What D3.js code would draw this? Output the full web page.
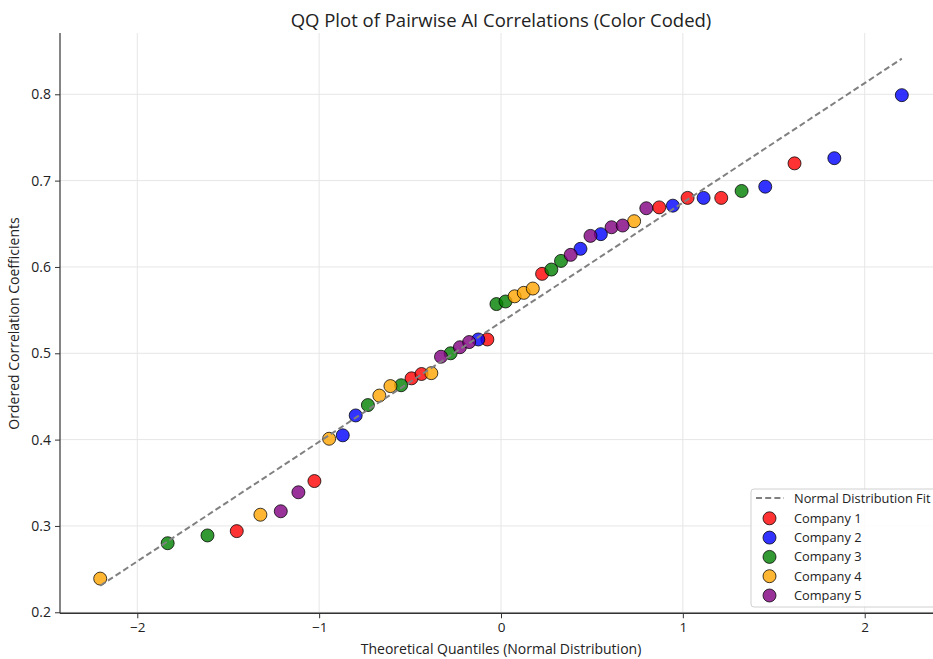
<!DOCTYPE html>
<html><head><meta charset="utf-8">
<script src="https://cdn.jsdelivr.net/npm/d3@7"></script>
<style>
body{margin:0;background:#fff;}
text{font-family:"Open Sans",Roboto,sans-serif;fill:#222;}
</style></head>
<body><svg id="chart" width="933" height="659"></svg>
<script>
// ---- data ----
const companies = ["Company 1","Company 2","Company 3","Company 4","Company 5"];
const companyColors = ["#ff0000","#0000ff","#008000","#ffa500","#800080"];
const theoreticalQuantiles = [
 -2.204,-1.833,-1.614,-1.453,-1.323,-1.211,-1.114,-1.026,-0.945,-0.870,
 -0.799,-0.732,-0.669,-0.608,-0.549,-0.492,-0.437,-0.383,-0.330,-0.277,
 -0.226,-0.175,-0.125,-0.075,-0.025, 0.025, 0.075, 0.125, 0.175, 0.226,
  0.277, 0.330, 0.383, 0.437, 0.492, 0.549, 0.608, 0.669, 0.732, 0.799,
  0.870, 0.945, 1.026, 1.114, 1.211, 1.323, 1.453, 1.614, 1.833, 2.204];
const orderedCorrelations = [
 0.239,0.280,0.289,0.294,0.313,0.317,0.339,0.352,0.401,0.405,
 0.428,0.440,0.451,0.462,0.463,0.471,0.476,0.477,0.496,0.500,
 0.507,0.513,0.516,0.516,0.557,0.560,0.566,0.570,0.575,0.592,
 0.597,0.607,0.614,0.621,0.636,0.638,0.646,0.648,0.653,0.668,
 0.669,0.671,0.680,0.680,0.680,0.688,0.693,0.720,0.726,0.799];
const companyOfPoint = [
 4,3,3,1,4,5,5,1,4,2,
 2,3,4,4,3,1,1,4,5,3,
 5,5,2,1,3,3,4,4,4,1,
 3,3,5,2,5,2,5,5,4,5,
 1,2,1,2,1,3,2,1,2,2];
const fitSlope = 0.1385;
const fitIntercept = 0.536;
const fitRange = [-2.204, 2.204];
const xTicks = [-2,-1,0,1,2];
const yTicks = [0.2,0.3,0.4,0.5,0.6,0.7,0.8];

// ---- layout ----
const svg = d3.select("#chart");
const L = 60, R = 942, T = 33, B = 614;
const x = d3.scaleLinear().domain([-2.425, 2.425]).range([L, R]);
const y = d3.scaleLinear().domain([0.198, 0.871]).range([B, T]);

// grid
const grid = svg.append("g");
grid.selectAll("line.gx").data(xTicks).enter().append("line")
  .attr("x1", d=>x(d)).attr("x2", d=>x(d)).attr("y1", T).attr("y2", B)
  .attr("stroke","#e6e6e6").attr("stroke-width",1);
grid.selectAll("line.gy").data(yTicks).enter().append("line")
  .attr("x1", L).attr("x2", R).attr("y1", d=>y(d)).attr("y2", d=>y(d))
  .attr("stroke","#e6e6e6").attr("stroke-width",1);

// points grouped by company (drawn in company order)
const pts = theoreticalQuantiles.map((q,i)=>({q, v: orderedCorrelations[i], c: companyOfPoint[i]}));
companies.forEach((name, ci) => {
  svg.append("g").selectAll("circle")
    .data(pts.filter(p => p.c === ci + 1)).enter().append("circle")
    .attr("cx", d=>x(d.q)).attr("cy", d=>y(d.v)).attr("r", 6.5)
    .attr("fill", companyColors[ci]).attr("fill-opacity", 0.8)
    .attr("stroke", "#000").attr("stroke-opacity", 0.75).attr("stroke-width", 1);
});

// fit line
const fitLine = d3.line().x(d=>x(d)).y(d=>y(fitSlope*d + fitIntercept));
svg.append("path").datum(fitRange).attr("d", fitLine)
  .attr("fill","none").attr("stroke","#808080").attr("stroke-width",2)
  .attr("stroke-dasharray","6,3.2");

// axes
const xAxis = d3.axisBottom(x).tickValues(xTicks).tickSize(5).tickPadding(4)
  .tickFormat(d => d < 0 ? "\u2212" + Math.abs(d) : d);
const gx = svg.append("g").attr("transform", `translate(0,${y(0.2)+1})`).call(xAxis);
gx.select(".domain").attr("d", `M${L},0H${R}`).attr("stroke","#333").attr("stroke-width",1.5);
gx.selectAll(".tick line").attr("stroke","#333");
gx.selectAll("text").style("font-size","13.5px").style("font-family","'Open Sans',sans-serif").attr("fill","#222");

const yAxis = d3.axisLeft(y).tickValues(yTicks).tickSize(5).tickPadding(4).tickFormat(d3.format(".1f"));
const gy = svg.append("g").attr("transform", `translate(${L},0)`).call(yAxis);
gy.select(".domain").attr("d", `M0,${T}V${y(0.2)+1}`).attr("stroke","#333").attr("stroke-width",1.2);
gy.selectAll(".tick line").attr("stroke","#333");
gy.selectAll("text").style("font-size","14px").style("font-family","'Open Sans',sans-serif").attr("fill","#222");

// titles
svg.append("text").attr("x", (L+R)/2).attr("y", 26.5).attr("text-anchor","middle")
  .style("font-size","18.5px").text("QQ Plot of Pairwise AI Correlations (Color Coded)");
svg.append("text").attr("x", (L+R)/2).attr("y", 654).attr("text-anchor","middle")
  .style("font-size","14px").text("Theoretical Quantiles (Normal Distribution)");
svg.append("text").attr("transform", `translate(19,${(T+B)/2}) rotate(-90)`).attr("text-anchor","middle")
  .style("font-size","14px").text("Ordered Correlation Coefficients");

// legend
const lg = svg.append("g").attr("transform","translate(751,489)");
lg.append("rect").attr("x",0).attr("y",0).attr("width",190).attr("height",118).attr("rx",3)
  .attr("fill","#fff").attr("fill-opacity",0.85).attr("stroke","#d0d0d0");
lg.append("line").attr("x1",5).attr("x2",33).attr("y1",9).attr("y2",9)
  .attr("stroke","#808080").attr("stroke-width",2).attr("stroke-dasharray","6,3.2");
lg.append("text").attr("x",43).attr("y",13.5).style("font-size","12.8px").text("Normal Distribution Fit");
companies.forEach((name, ci) => {
  const yy = 29.3 + ci*19.3;
  lg.append("circle").attr("cx",18.5).attr("cy",yy).attr("r",6.5)
    .attr("fill", companyColors[ci]).attr("fill-opacity",0.8)
    .attr("stroke","#000").attr("stroke-opacity",0.75);
  lg.append("text").attr("x",43).attr("y",yy+4.5).style("font-size","12.8px").text(name);
});
</script></body></html>
